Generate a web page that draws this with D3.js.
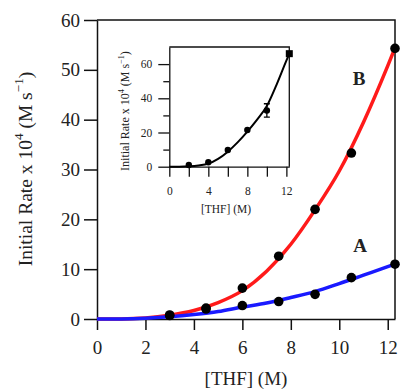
<!DOCTYPE html>
<html>
<head>
<meta charset="utf-8">
<script src="https://cdn.jsdelivr.net/npm/d3@7"></script>
<style>
  body { margin: 0; background: #fff; }
  text { font-family: "Liberation Serif", "DejaVu Serif", serif; fill: #222; }
</style>
</head>
<body>
<div id="chart"></div>
<script>
// Main panel: measured points
const bX = [3, 4.5, 6, 7.5, 9, 10.5, 12.3];
const bY = [0.8, 2.2, 6.2, 12.6, 22.0, 33.3, 54.3];
const aX = [3, 4.5, 6, 7.5, 9, 10.5, 12.3];
const aY = [0.7, 2.0, 2.7, 3.5, 4.95, 8.3, 11.0];

// Main panel: fitted curves
const fitX = [0, 1, 2, 3, 4, 5, 6, 7, 8, 9, 10, 11, 12, 12.3];
const fitB = [0, 0.02, 0.2, 0.75, 1.7, 3.3, 5.7, 9.6, 15, 21.9, 29.7, 39.5, 50.8, 54.4];
const fitA = [0, 0.02, 0.15, 0.45, 0.9, 1.5, 2.4, 3.2, 4.3, 5.5, 7.1, 8.8, 10.5, 11.0];

// Inset: measured points, error bar and fit
const inX = [2, 4, 6, 8, 10];
const inY = [1.0, 2.6, 9.8, 21.5, 32.9];
const inErr = [0, 0, 0, 0, 3.9];
const inSqX = [12.3];
const inSqY = [66.1];
const inFitX = [0, 1, 2, 3, 4, 5, 6, 7, 8, 9, 10, 11, 12, 12.3];
const inFitY = [0, 0.02, 0.2, 0.7, 1.8, 4.6, 8.8, 14.2, 20.5, 27.5, 35.5, 48, 62, 66];

// Tick values
const xTicks = [0, 2, 4, 6, 8, 10, 12];
const yTicks = [0, 10, 20, 30, 40, 50, 60];
const inXTicks = [0, 2, 4, 6, 8, 10, 12];
const inXLabels = [0, 4, 8, 12];
const inYMajor = [0, 20, 40, 60];
const inYMinor = [10, 30, 50];

const W = 400, H = 390;
const svg = d3.select("#chart").append("svg")
  .attr("width", W).attr("height", H);

// ---------- main panel ----------
const x = d3.scaleLinear().domain([0, 12.3]).range([97, 395]);
const y = d3.scaleLinear().domain([0, 60]).range([319, 20]);

const xAxis = svg.append("g")
  .attr("transform", `translate(0,${y(0)})`)
  .call(d3.axisBottom(x).tickValues(xTicks).tickSize(11).tickSizeOuter(0).tickPadding(11));
const yAxis = svg.append("g")
  .attr("transform", `translate(${x(0)},0)`)
  .call(d3.axisLeft(y).tickValues(yTicks).tickSize(13).tickSizeOuter(0).tickPadding(4));
[xAxis, yAxis].forEach((g) => {
  g.selectAll("path, line").attr("stroke", "#111").attr("stroke-width", 1.5);
  g.selectAll("text").style("font-size", "19px").attr("fill", "#222");
});

// frame top and right
svg.append("path")
  .attr("d", `M${x(0)},${y(60)}H${x(12.3)}V${y(0)}`)
  .attr("fill", "none").attr("stroke", "#111").attr("stroke-width", 1.5);

const line = d3.line().curve(d3.curveMonotoneX);

svg.append("path")
  .attr("d", line(fitX.map((v, i) => [x(v), y(fitB[i])])))
  .attr("fill", "none").attr("stroke", "#ff1a1a").attr("stroke-width", 3.5);
svg.append("path")
  .attr("d", line(fitX.map((v, i) => [x(v), y(fitA[i])])))
  .attr("fill", "none").attr("stroke", "#1a1aff").attr("stroke-width", 3.5);

svg.selectAll(".dotA").data(aX).enter().append("circle")
  .attr("cx", (d) => x(d)).attr("cy", (d, i) => y(aY[i])).attr("r", 4.8).attr("fill", "#000");
svg.selectAll(".dotB").data(bX).enter().append("circle")
  .attr("cx", (d) => x(d)).attr("cy", (d, i) => y(bY[i])).attr("r", 4.8).attr("fill", "#000");

svg.append("text").attr("x", 359).attr("y", 85).attr("text-anchor", "middle")
  .style("font-size", "19px").style("font-weight", "bold").text("B");
svg.append("text").attr("x", 360).attr("y", 252).attr("text-anchor", "middle")
  .style("font-size", "19px").style("font-weight", "bold").text("A");

// axis titles
svg.append("text").attr("x", 246).attr("y", 385).attr("text-anchor", "middle")
  .style("font-size", "19px").text("[THF] (M)");

function rateLabel(g, cx, cy, size) {
  const t = g.append("text")
    .attr("transform", `translate(${cx},${cy}) rotate(-90)`)
    .attr("text-anchor", "middle").style("font-size", size + "px");
  t.append("tspan").text("Initial Rate x 10");
  t.append("tspan").attr("dy", -size * 0.45).style("font-size", size * 0.68 + "px").text("4");
  t.append("tspan").attr("dy", size * 0.45).text(" (M s");
  t.append("tspan").attr("dy", -size * 0.45).style("font-size", size * 0.68 + "px").text("\u22121");
  t.append("tspan").attr("dy", size * 0.45).text(")");
}
rateLabel(svg, 32, 169, 19.5);

// ---------- inset ----------
const ix = d3.scaleLinear().domain([0, 12.3]).range([169.3, 289.3]);
const iy = d3.scaleLinear().domain([0, 70]).range([166.7, 47]);

const inset = svg.append("g");
const ixAxis = inset.append("g")
  .attr("transform", `translate(0,${iy(0)})`)
  .call(d3.axisBottom(ix).tickValues(inXTicks).tickSize(10).tickSizeOuter(0).tickPadding(10)
    .tickFormat((d) => (inXLabels.includes(d) ? d : "")));
const iyAxis = inset.append("g")
  .attr("transform", `translate(${ix(0)},0)`)
  .call(d3.axisLeft(iy).tickValues(inYMajor).tickSize(11).tickSizeOuter(0).tickPadding(6));
const iyMinor = inset.append("g")
  .attr("transform", `translate(${ix(0)},0)`)
  .call(d3.axisLeft(iy).tickValues(inYMinor).tickSize(6).tickSizeOuter(0).tickFormat(""));
[ixAxis, iyAxis, iyMinor].forEach((g) => {
  g.selectAll("path, line").attr("stroke", "#111").attr("stroke-width", 1.3);
  g.selectAll("text").style("font-size", "11.5px").attr("fill", "#222");
});
iyMinor.select(".domain").remove();

inset.append("path")
  .attr("d", `M${ix(0)},${iy(70)}H${ix(12.3)}V${iy(0)}`)
  .attr("fill", "none").attr("stroke", "#111").attr("stroke-width", 1.3);

inset.append("path")
  .attr("d", line(inFitX.map((v, i) => [ix(v), iy(inFitY[i])])))
  .attr("fill", "none").attr("stroke", "#000").attr("stroke-width", 2);

inset.selectAll(".err").data(inX.filter((d, i) => inErr[i] > 0)).enter().append("path")
  .attr("d", (d) => {
    const i = inX.indexOf(d);
    const top = iy(inY[i] + inErr[i]), bot = iy(inY[i] - inErr[i]);
    return `M${ix(d) - 3},${top}H${ix(d) + 3}M${ix(d)},${top}V${bot}M${ix(d) - 3},${bot}H${ix(d) + 3}`;
  })
  .attr("fill", "none").attr("stroke", "#000").attr("stroke-width", 1.3);

inset.selectAll(".idot").data(inX).enter().append("circle")
  .attr("cx", (d) => ix(d)).attr("cy", (d, i) => iy(inY[i])).attr("r", 3.2).attr("fill", "#000");
inset.selectAll(".isq").data(inSqX).enter().append("rect")
  .attr("x", (d) => ix(d) - 3.5).attr("y", (d, i) => iy(inSqY[i]) - 3.5)
  .attr("width", 7).attr("height", 7).attr("fill", "#000");

inset.append("text").attr("x", 226).attr("y", 213).attr("text-anchor", "middle")
  .style("font-size", "11.5px").text("[THF] (M)");
rateLabel(inset, 129, 111, 12);
</script>
</body>
</html>
